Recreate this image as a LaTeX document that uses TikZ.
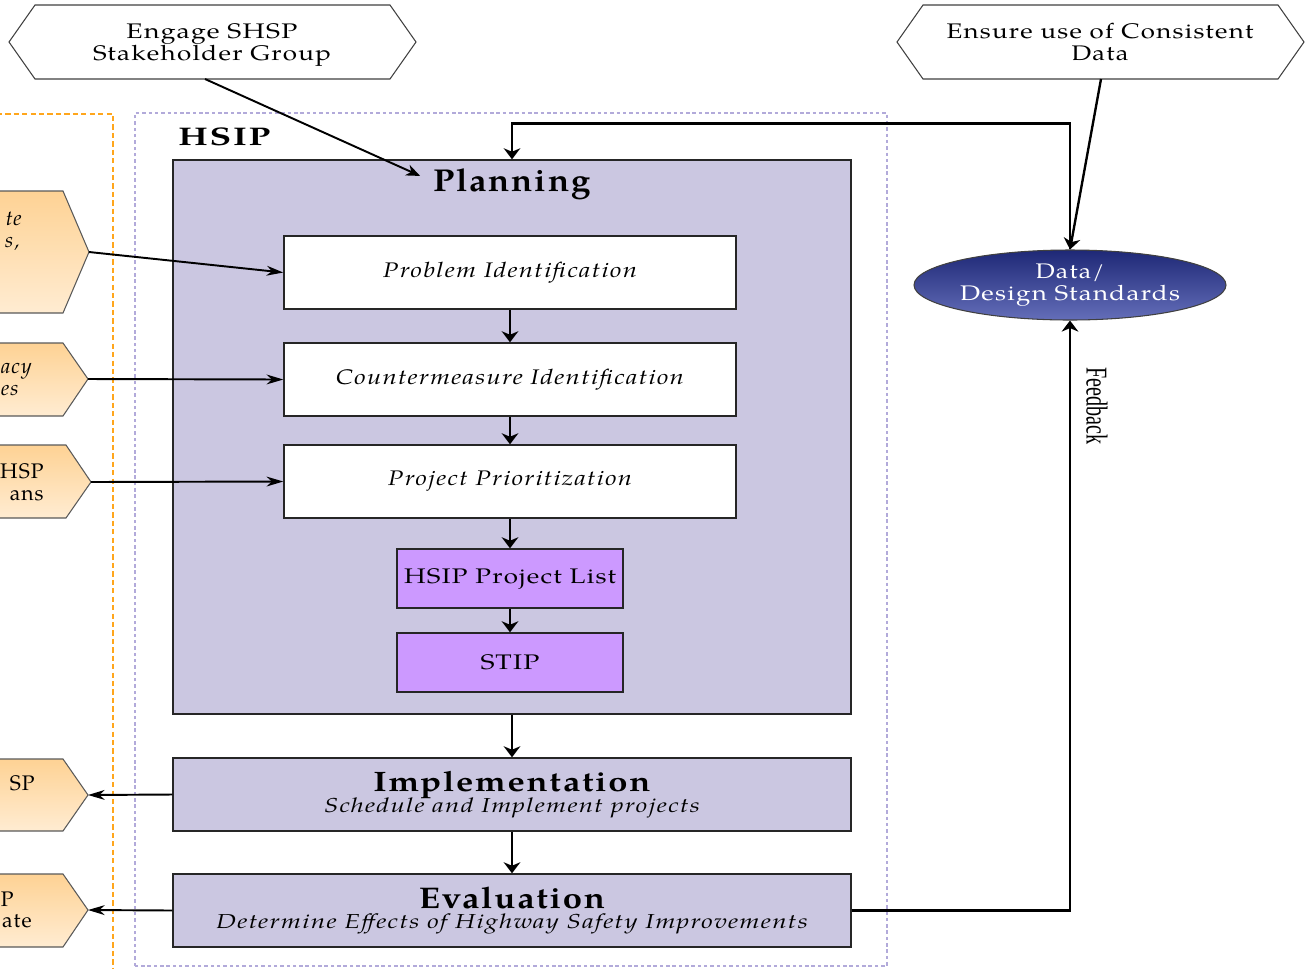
\documentclass[tikz,border=0pt]{standalone}
\usepackage{fontspec}
\setmainfont{texgyrepagella}[Extension=.otf, UprightFont=*-regular, BoldFont=*-bold, ItalicFont=*-italic, BoldItalicFont=*-bolditalic, LetterSpace=5]
\newfontfamily\fbfont{Liberation Serif}
\usepackage{graphicx}
\usetikzlibrary{arrows.meta,shapes.geometric}
\newlength\pxu \setlength\pxu{0.02cm}
\newcommand\fw[2]{\resizebox{#1\pxu}{\height}{#2}}
\definecolor{hsipfill}{RGB}{203,199,225}
\definecolor{listfill}{RGB}{204,153,255}
\definecolor{orgtop}{RGB}{254,210,148}
\definecolor{orgbot}{RGB}{255,236,210}
\definecolor{hsipdash}{RGB}{178,170,218}
\definecolor{orgdash}{RGB}{255,166,28}
\definecolor{navyA}{RGB}{12,24,112}
\definecolor{navyB}{RGB}{30,40,118}
\definecolor{navyL}{RGB}{100,110,185}
\begin{document}
\begin{tikzpicture}[x=0.02cm,y=-0.02cm,
  every node/.style={inner sep=0pt},
  hexline/.style={draw=black!75, line width=0.6pt, fill=white},
  lefthex/.style={draw=black!65, line width=0.6pt, top color=orgtop, bottom color=orgbot},
  hextext/.style={align=center, font=\fontsize{12}{12.8}\selectfont, execute at begin node={\lineskiplimit=-30pt}},
  box/.style={draw=black!85, line width=0.8pt, rectangle, align=center},
  whitebox/.style={box, fill=white, minimum width=452*\pxu, minimum height=73*\pxu, font=\itshape\fontsize{12}{13}\selectfont},
  listbox/.style={box, fill=listfill, minimum width=226*\pxu, minimum height=59*\pxu, font=\fontsize{12}{13}\selectfont},
  phase/.style={box, fill=hsipfill, minimum width=678*\pxu, minimum height=73*\pxu, font=\fontsize{11.5}{11}\selectfont, execute at begin node={\lineskiplimit=-30pt}},
  frag/.style={anchor=base east, font=\fontsize{12}{13}\selectfont},
  dataell/.style={ellipse, draw=black!75, line width=0.6pt, top color=navyB, middle color=navyA, bottom color=navyL, minimum width=312*\pxu, minimum height=70*\pxu, align=center, text=white, font=\fontsize{12}{12.5}\selectfont, execute at begin node={\lineskiplimit=-30pt}},
  arrH/.style={line width=1.1pt, -{Stealth[length=9.5pt, width=5.6pt, inset=3pt]}},
  arrV/.style={line width=1.35pt, -{Stealth[length=6.3pt, width=9.5pt, inset=2pt]}},
  arrD/.style={line width=1.1pt, -{Stealth[length=8pt, width=6.5pt, inset=2.5pt]}}
]
\useasboundingbox (0,0) rectangle (1305,968);
\clip (0,0) rectangle (1305,968);

% dashed frames
\draw[orgdash, line width=0.8pt, dash pattern=on 3pt off 1.8pt] (-20,114) -- (113,114) -- (113,990);
\draw[hsipdash, line width=0.8pt, dash pattern=on 2pt off 1.6pt] (135,966) -- (135,113) -- (887,113) -- (887,966) -- cycle;

% top hexagons
\draw[hexline] (9,42) -- (35,5) -- (390,5) -- (416,42) -- (390,79) -- (35,79) -- cycle;
\node[hextext] (engage) at (212,45) {\fw{171}{Engage SHSP}\\\fw{238}{Stakeholder Group}};
\coordinate (engageS) at (205,79);
\draw[hexline] (897,42) -- (923,5) -- (1278,5) -- (1304,42) -- (1278,79) -- (923,79) -- cycle;
\node[hextext, font=\fontsize{12}{12.5}\selectfont] (ensure) at (1100,42) {\fw{307}{Ensure use of Consistent}\\\fw{57}{Data}};
\coordinate (ensureS) at (1101,79);

% left hexagons (cut by the picture edge)
\draw[lefthex] (-60,191) -- (63,191) -- (89,252) -- (63,313) -- (-60,313) -- cycle;
\coordinate (sh1) at (89,252);
\node[frag] (f1a) at (22,225) {\itshape te};
\node[frag] (f1b) at (20,247) {\itshape s,};
\draw[lefthex] (-60,343) -- (63,343) -- (88,379) -- (63,416) -- (-60,416) -- cycle;
\coordinate (sh2) at (88,379);
\node[frag] (f2a) at (32,373) {\itshape acy};
\node[frag] (f2b) at (19,395) {\itshape es};
\draw[lefthex] (-60,445) -- (66,445) -- (91,482) -- (66,518) -- (-60,518) -- cycle;
\coordinate (sh3) at (91,482);
\node[frag] (f3a) at (44,478) {HSP};
\node[frag] (f3b) at (44,500) {ans};
\draw[lefthex] (-60,759) -- (63,759) -- (88,795) -- (63,831) -- (-60,831) -- cycle;
\coordinate (sh4) at (88,795);
\node[frag] (f4a) at (35,790) {SP};
\draw[lefthex] (-60,874) -- (63,874) -- (88,910) -- (63,947) -- (-60,947) -- cycle;
\coordinate (sh5) at (88,910);
\node[frag] (f5a) at (14,906) {P};
\node[frag] (f5b) at (32,927) {ate};

% HSIP
\node[anchor=base west, font=\bfseries\fontsize{14.5}{14.5}\selectfont] (hsiplabel) at (178,145) {\fw{92}{HSIP}};
\node[box, fill=hsipfill, minimum width=678*\pxu, minimum height=554*\pxu] (planning) at (512,437) {};
\node[anchor=base, font=\bfseries\fontsize{18}{18}\selectfont] (ptitle) at (512,191) {\fw{157}{Planning}};
\node[whitebox] (prob) at (510,272.5) {\fw{254}{Problem Identification}};
\node[whitebox] (cm) at (510,379.5) {\fw{348}{Countermeasure Identification}};
\node[whitebox] (prio) at (510,481.5) {\fw{244}{Project Prioritization}};
\node[listbox] (plist) at (510,578.5) {\fw{212}{HSIP Project List}};
\node[listbox] (stip) at (510,662.5) {\fw{59}{STIP}};
\node[phase, font=\fontsize{11.5}{12.2}\selectfont] (impl) at (512,794.5) {\fw{277}{\bfseries\fontsize{16}{16}\selectfont Implementation}\\\fw{376}{\itshape Schedule and Implement projects}};
\node[phase, font=\fontsize{11.5}{11.3}\selectfont] (eval) at (512,910.5) {\fw{186}{\bfseries\fontsize{17}{17}\selectfont Evaluation}\\\fw{592}{\itshape Determine Effects of Highway Safety Improvements}};

% data ellipse
\node[dataell] (data) at (1070,285) {\fw{69}{Data/}\\\fw{220}{Design Standards}};
\node[rotate=-90] (fb) at (1097,406) {\resizebox{77\pxu}{21\pxu}{\fbfont Feedback}};

% connectors
\draw[arrD] (engageS) -- ([xshift=-7.4pt, yshift=4.5pt]ptitle.west);
\draw[arrV] (ensureS) -- (data.north);
\draw[arrV] (data.north) -- ++(0,-126) -| (planning.north);
\draw[arrV] (eval.east) -| (data.south);
\draw[arrH] (sh1) -- (prob.west);
\draw[arrH] (sh2) -- (cm.west);
\draw[arrH] (sh3) -- (prio.west);
\draw[arrH] (impl.west) -- (sh4);
\draw[arrH] (eval.west) -- (sh5);
\draw[arrV] (prob.south) -- (cm.north);
\draw[arrV] (cm.south) -- (prio.north);
\draw[arrV] (prio.south) -- (plist.north);
\draw[arrV] (plist.south) -- (stip.north);
\draw[arrV] (planning.south) -- (impl.north);
\draw[arrV] (impl.south) -- (eval.north);
\end{tikzpicture}
\end{document}
